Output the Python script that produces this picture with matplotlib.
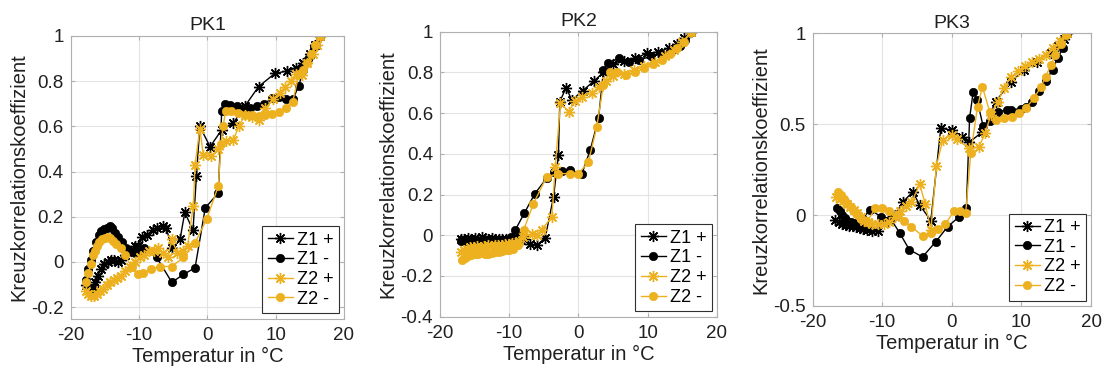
import matplotlib
matplotlib.use("Agg")
import matplotlib.pyplot as plt
from matplotlib.ticker import FormatStrFormatter

plt.rcParams['font.family'] = ['Liberation Sans', 'DejaVu Sans']
plt.rcParams['axes.unicode_minus'] = False

BLACK = '#000000'
GOLD = '#EDB120'

series_labels = ['Z1 +', 'Z1 -', 'Z2 +', 'Z2 -']
panel_titles = ['PK1', 'PK2', 'PK3']

# ---------------- PK1 ----------------
pk1_z1p_t = [-17.7, -17.3, -16.8, -16.4, -16.0, -15.6, -15.1, -14.6, -14.1, -13.6, -13.1, -12.6, -12.1,
             -11.2, -10.6, -10.1, -9.5, -8.9, -8.0, -7.4, -6.5, -6.0, -5.2, -4.0, -3.3, -2.1, -1.6, -1.1,
             0.4, 2.1, 3.8, 5.5, 7.5, 9.9, 11.7, 13.0, 14.0, 15.0, 15.8, 16.5]
pk1_z1p_v = [-0.10, -0.12, -0.11, -0.09, -0.06, -0.03, -0.01, 0.00, 0.01, 0.01, 0.00, 0.01, 0.03,
             0.05, 0.07, 0.07, 0.11, 0.12, 0.14, 0.15, 0.16, 0.15, 0.06, 0.10, 0.22, 0.14, 0.38, 0.60,
             0.51, 0.585, 0.615, 0.69, 0.776, 0.835, 0.845, 0.86, 0.88, 0.92, 0.96, 1.00]

pk1_z1m_t = [-17.7, -17.4, -17.1, -16.7, -16.3, -15.9, -15.5, -15.1, -14.7, -14.3, -13.9, -13.5, -13.1,
             -12.5, -11.9, -11.3, -10.6, -9.9, -9.2, -7.4, -5.2, -3.5, -1.8, -0.3, 1.6, 2.1, 2.6, 3.3,
             4.3, 5.3, 6.3, 7.3, 8.3, 9.5, 10.5, 11.5, 12.5, 13.4, 14.0, 14.8, 15.6, 16.5]
pk1_z1m_v = [-0.08, -0.03, 0.01, 0.05, 0.09, 0.12, 0.135, 0.145, 0.15, 0.158, 0.15, 0.13, 0.11,
             0.09, 0.06, 0.048, 0.04, 0.055, 0.06, 0.02, -0.09, -0.055, -0.026, 0.24, 0.305, 0.666, 0.70, 0.695,
             0.69, 0.68, 0.68, 0.69, 0.70, 0.725, 0.73, 0.72, 0.72, 0.78, 0.85, 0.90, 0.95, 1.00]

pk1_z2p_t = [-17.8, -17.4, -17.0, -16.6, -16.2, -15.7, -15.2, -14.7, -14.2, -13.7, -13.2, -12.6, -12.0,
             -11.3, -10.6, -9.9, -9.2, -8.5, -7.8, -7.2, -6.5, -5.8, -5.2, -4.4, -3.6, -2.9, -2.05, -1.8,
             -1.1, -0.6, 0.6, 1.6, 2.8, 3.8, 4.6, 5.5, 6.5, 7.5, 8.5, 9.6, 10.6, 11.4, 12.3, 13.0,
             13.8, 14.6, 15.4, 16.0, 16.5]
pk1_z2p_v = [-0.13, -0.14, -0.15, -0.15, -0.14, -0.13, -0.12, -0.10, -0.09, -0.08, -0.07, -0.06, -0.04,
             -0.02, 0.00, 0.02, 0.03, 0.05, 0.05, 0.06, 0.04, 0.02, 0.10, 0.04, 0.05, 0.07, 0.25, 0.43,
             0.59, 0.475, 0.47, 0.50, 0.534, 0.54, 0.60, 0.65, 0.64, 0.63, 0.68, 0.72, 0.75, 0.776, 0.80, 0.83,
             0.828, 0.88, 0.92, 0.96, 1.00]

pk1_z2m_t = [-17.7, -17.4, -17.1, -16.8, -16.5, -16.2, -15.8, -15.4, -15.0, -14.6, -14.2, -13.8, -13.3,
             -12.7, -12.1, -11.1, -10.2, -9.4, -8.2, -6.9, -5.2, -3.5, -1.8, -0.1, 1.6, 2.0, 2.3, 2.7,
             3.5, 4.5, 5.5, 6.5, 7.5, 8.5, 9.5, 10.5, 11.5, 12.5, 13.4, 14.0, 14.6, 15.2, 15.8, 16.5]
pk1_z2m_v = [-0.09, -0.05, -0.01, 0.03, 0.05, 0.07, 0.09, 0.10, 0.105, 0.11, 0.105, 0.095, 0.08,
             0.06, 0.03, -0.02, -0.055, -0.05, -0.03, -0.02, -0.02, 0.02, 0.085, 0.19, 0.335, 0.52, 0.60, 0.67,
             0.67, 0.66, 0.65, 0.65, 0.645, 0.65, 0.655, 0.665, 0.68, 0.71, 0.83, 0.85, 0.88, 0.92, 0.96, 1.00]

# ---------------- PK2 ----------------
pk2_z1p_t = [-17.0, -16.5, -16.0, -15.5, -15.0, -14.5, -14.0, -13.5, -13.0, -12.5, -12.0, -11.5, -11.0,
             -10.5, -10.0, -9.5, -9.0, -8.5, -7.8, -6.95, -6.0, -4.8, -3.6, -2.9, -2.7, -1.8, -0.96,
             0.6, 2.2, 3.6, 5.0, 6.6, 8.2, 9.9, 11.5, 13.0, 14.2, 15.2, 16.3]
pk2_z1p_v = [-0.02, -0.02, -0.015, -0.02, -0.015, -0.02, -0.01, -0.02, -0.02, -0.015, -0.02, -0.02, -0.02,
             -0.02, -0.02, -0.015, -0.01, -0.01, -0.02, -0.044, -0.05, -0.011, 0.19, 0.393, 0.656, 0.725, 0.664,
             0.71, 0.757, 0.80, 0.84, 0.855, 0.87, 0.894, 0.90, 0.92, 0.94, 0.97, 1.00]

pk2_z1m_t = [-17.0, -16.4, -15.8, -15.2, -14.6, -14.0, -13.4, -12.8, -12.2, -11.6, -11.0, -10.4, -9.8,
             -9.1, -7.8, -6.3, -4.6, -3.6, -2.4, -1.2, 0.5, 1.7, 2.9, 3.6, 4.3, 5.9, 7.3, 8.8,
             10.4, 12.0, 13.5, 14.6, 15.4, 16.3]
pk2_z1m_v = [-0.03, -0.03, -0.025, -0.03, -0.03, -0.025, -0.03, -0.03, -0.03, -0.03, -0.025, -0.03, -0.01,
             0.028, 0.11, 0.205, 0.28, 0.31, 0.315, 0.32, 0.303, 0.42, 0.574, 0.81, 0.848, 0.87, 0.85, 0.86,
             0.88, 0.89, 0.91, 0.93, 0.96, 1.00]

pk2_z2p_t = [-17.0, -16.6, -16.1, -15.6, -15.1, -14.6, -14.1, -13.6, -13.1, -12.6, -12.1, -11.6, -11.1,
             -10.6, -10.1, -9.6, -9.1, -8.6, -8.0, -6.7, -6.0, -5.3, -3.84, -3.36, -2.6, -1.44, -0.5,
             0.5, 2.0, 3.0, 4.0, 5.0, 6.5, 8.0, 9.5, 11.0, 12.5, 13.8, 15.0, 16.3]
pk2_z2p_v = [-0.08, -0.07, -0.065, -0.06, -0.06, -0.055, -0.06, -0.055, -0.05, -0.055, -0.05, -0.05, -0.05,
             -0.045, -0.045, -0.04, -0.04, -0.03, -0.01, 0.008, 0.00, 0.028, 0.09, 0.336, 0.65, 0.607, 0.66,
             0.68, 0.70, 0.73, 0.76, 0.78, 0.79, 0.81, 0.83, 0.85, 0.88, 0.91, 0.95, 1.00]

pk2_z2m_t = [-16.8, -16.4, -16.0, -15.5, -15.0, -14.5, -14.0, -13.5, -13.0, -12.5, -12.0, -11.5, -11.0,
             -10.5, -10.0, -9.4, -8.8, -7.9, -6.5, -4.6, -2.9, -1.2, 0.0, 1.44, 2.64, 3.6, 4.5, 5.5,
             6.9, 8.2, 9.5, 10.8, 12.0, 13.2, 14.2, 15.2, 16.3]
pk2_z2m_v = [-0.123, -0.11, -0.10, -0.095, -0.09, -0.09, -0.085, -0.09, -0.09, -0.085, -0.08, -0.08, -0.075,
             -0.07, -0.07, -0.065, -0.05, 0.028, 0.156, 0.287, 0.303, 0.303, 0.303, 0.36, 0.533, 0.74, 0.80, 0.80,
             0.787, 0.80, 0.82, 0.84, 0.86, 0.89, 0.92, 0.95, 1.00]

# ---------------- PK3 ----------------
pk3_z1p_t = [-16.7, -16.2, -15.7, -15.2, -14.7, -14.2, -13.7, -13.2, -12.7, -12.2, -11.4, -10.6, -9.9,
             -9.2, -8.2, -7.0, -5.6, -4.6, -3.0, -1.58, 0.1, 1.53, 2.5, 4.4, 6.3, 8.5, 10.4, 12.3,
             14.2, 15.2, 16.1, 16.6]
pk3_z1p_v = [-0.027, -0.04, -0.05, -0.055, -0.06, -0.06, -0.065, -0.07, -0.075, -0.083, -0.085, -0.085, -0.03,
             -0.03, 0.00, 0.073, 0.128, 0.055, -0.03, 0.477, 0.468, 0.431, 0.40, 0.458, 0.624, 0.734, 0.798, 0.844,
             0.89, 0.93, 0.97, 1.00]

pk3_z1m_t = [-16.5, -16.1, -15.8, -15.4, -15.0, -14.5, -14.1, -13.5, -12.8, -11.75, -10.1, -8.7, -7.5,
             -6.1, -4.2, -2.3, -0.6, 1.04, 2.1, 2.56, 3.08, 3.65, 4.5, 5.5, 6.7, 7.9, 8.5, 10.0,
             10.6, 11.5, 12.5, 13.5, 14.5, 15.2, 16.0, 16.6]
pk3_z1m_v = [0.037, 0.02, 0.00, -0.015, -0.03, -0.04, -0.046, -0.05, -0.02, 0.03, -0.01, -0.024, -0.097,
             -0.19, -0.23, -0.147, -0.064, -0.01, 0.037, 0.532, 0.679, 0.633, 0.49, 0.52, 0.569, 0.578, 0.58, 0.585,
             0.597, 0.62, 0.68, 0.74, 0.80, 0.863, 0.92, 1.00]

pk3_z2p_t = [-16.6, -16.1, -15.6, -15.1, -14.6, -14.1, -13.6, -13.1, -12.6, -12.1, -11.4, -10.6, -9.8,
             -9.0, -8.2, -7.4, -6.6, -5.8, -4.6, -3.8, -3.0, -2.2, -1.3, 0.0, 0.8, 2.46, 3.9, 4.8,
             5.6, 6.6, 7.5, 8.5, 9.5, 10.5, 11.5, 12.5, 13.5, 14.5, 15.5, 16.6]
pk3_z2p_v = [0.10, 0.09, 0.075, 0.06, 0.045, 0.03, 0.01, -0.01, -0.03, -0.04, -0.05, -0.05, -0.05,
             -0.04, -0.01, 0.02, 0.05, 0.07, 0.169, 0.06, -0.08, 0.27, 0.413, 0.44, 0.416, 0.367, 0.376, 0.45,
             0.55, 0.62, 0.70, 0.76, 0.79, 0.82, 0.84, 0.86, 0.88, 0.92, 0.96, 1.00]

pk3_z2m_t = [-16.3, -15.9, -15.5, -15.0, -14.5, -14.0, -13.5, -13.0, -12.2, -11.0, -10.0, -9.0, -7.7,
             -6.8, -5.8, -4.2, -3.0, -2.0, -0.9, 0.33, 1.2, 2.0, 2.73, 3.7, 4.4, 5.45, 6.3, 7.5,
             8.7, 9.7, 10.6, 11.8, 12.8, 13.5, 14.2, 14.9, 15.7, 16.4]
pk3_z2m_v = [0.128, 0.11, 0.09, 0.065, 0.045, 0.02, 0.00, -0.02, -0.04, 0.037, 0.04, 0.02, 0.00,
             -0.035, -0.064, -0.114, -0.10, -0.075, -0.05, 0.024, 0.02, 0.01, 0.34, 0.596, 0.706, 0.569, 0.523, 0.532,
             0.541, 0.563, 0.587, 0.642, 0.706, 0.761, 0.825, 0.879, 0.94, 0.99]

panels = [
    dict(title=panel_titles[0], ylim=(-0.25, 1.0), yticks=[-0.2, 0, 0.2, 0.4, 0.6, 0.8, 1.0],
         series=[(pk1_z1p_t, pk1_z1p_v), (pk1_z1m_t, pk1_z1m_v),
                 (pk1_z2p_t, pk1_z2p_v), (pk1_z2m_t, pk1_z2m_v)],
         rect_px=(70.7, 344.0, 36.0, 318.5)),
    dict(title=panel_titles[1], ylim=(-0.4, 1.0), yticks=[-0.4, -0.2, 0, 0.2, 0.4, 0.6, 0.8, 1.0],
         series=[(pk2_z1p_t, pk2_z1p_v), (pk2_z1m_t, pk2_z1m_v),
                 (pk2_z2p_t, pk2_z2p_v), (pk2_z2m_t, pk2_z2m_v)],
         rect_px=(440.0, 717.0, 31.7, 316.7)),
    dict(title=panel_titles[2], ylim=(-0.5, 1.0), yticks=[-0.5, 0, 0.5, 1.0],
         series=[(pk3_z1p_t, pk3_z1p_v), (pk3_z1m_t, pk3_z1m_v),
                 (pk3_z2p_t, pk3_z2p_v), (pk3_z2m_t, pk3_z2m_v)],
         rect_px=(812.5, 1091.0, 33.3, 306.0)),
]

W, H = 1105, 370
fig = plt.figure(figsize=(W / 100, H / 100), dpi=100)

asterisk = (8, 2, 0)
styles = [
    dict(color=BLACK, marker=asterisk, markersize=8, markeredgewidth=1.0),
    dict(color=BLACK, marker='o', markersize=6, markeredgewidth=0.5),
    dict(color=GOLD, marker=asterisk, markersize=8, markeredgewidth=1.0),
    dict(color=GOLD, marker='o', markersize=6, markeredgewidth=0.5),
]

for p in panels:
    l, r, t, b = p['rect_px']
    ax = fig.add_axes([l / W, 1 - b / H, (r - l) / W, (b - t) / H])
    for (tt, vv), st, lab in zip(p['series'], styles, series_labels):
        ax.plot(tt, vv, linewidth=1.0, label=lab, **st)
    ax.set_xlim(-20, 20)
    ax.set_ylim(*p['ylim'])
    ax.set_xticks([-20, -10, 0, 10, 20])
    ax.set_yticks(p['yticks'])
    ax.yaxis.set_major_formatter(FormatStrFormatter('%g'))
    ax.grid(True, color='#e3e3e3', linewidth=0.8)
    ax.set_axisbelow(True)
    for s in ax.spines.values():
        s.set_color('#b0b0b0')
        s.set_linewidth(0.8)
    ax.tick_params(direction='in', length=3, color='#b0b0b0', labelsize=13.5, labelcolor='#202020',
                   top=True, right=True)
    ax.tick_params(axis='x', pad=6)
    ax.tick_params(axis='y', pad=5)
    ax.set_title(p['title'], fontsize=14, color='#202020', pad=4)
    ax.set_xlabel('Temperatur in °C', fontsize=14.5, color='#202020', labelpad=2)
    ax.set_ylabel('Kreuzkorrelationskoeffizient', fontsize=14.5, color='#202020', labelpad=2)
    leg = ax.legend(loc='lower right', fontsize=13, handlelength=1.4, handletextpad=0.2,
                    borderpad=0.3, labelspacing=0.15, borderaxespad=0.3, fancybox=False,
                    framealpha=1.0)
    leg.get_frame().set_edgecolor('#303030')
    leg.get_frame().set_linewidth(0.8)

fig.savefig('out.png', dpi=100)
